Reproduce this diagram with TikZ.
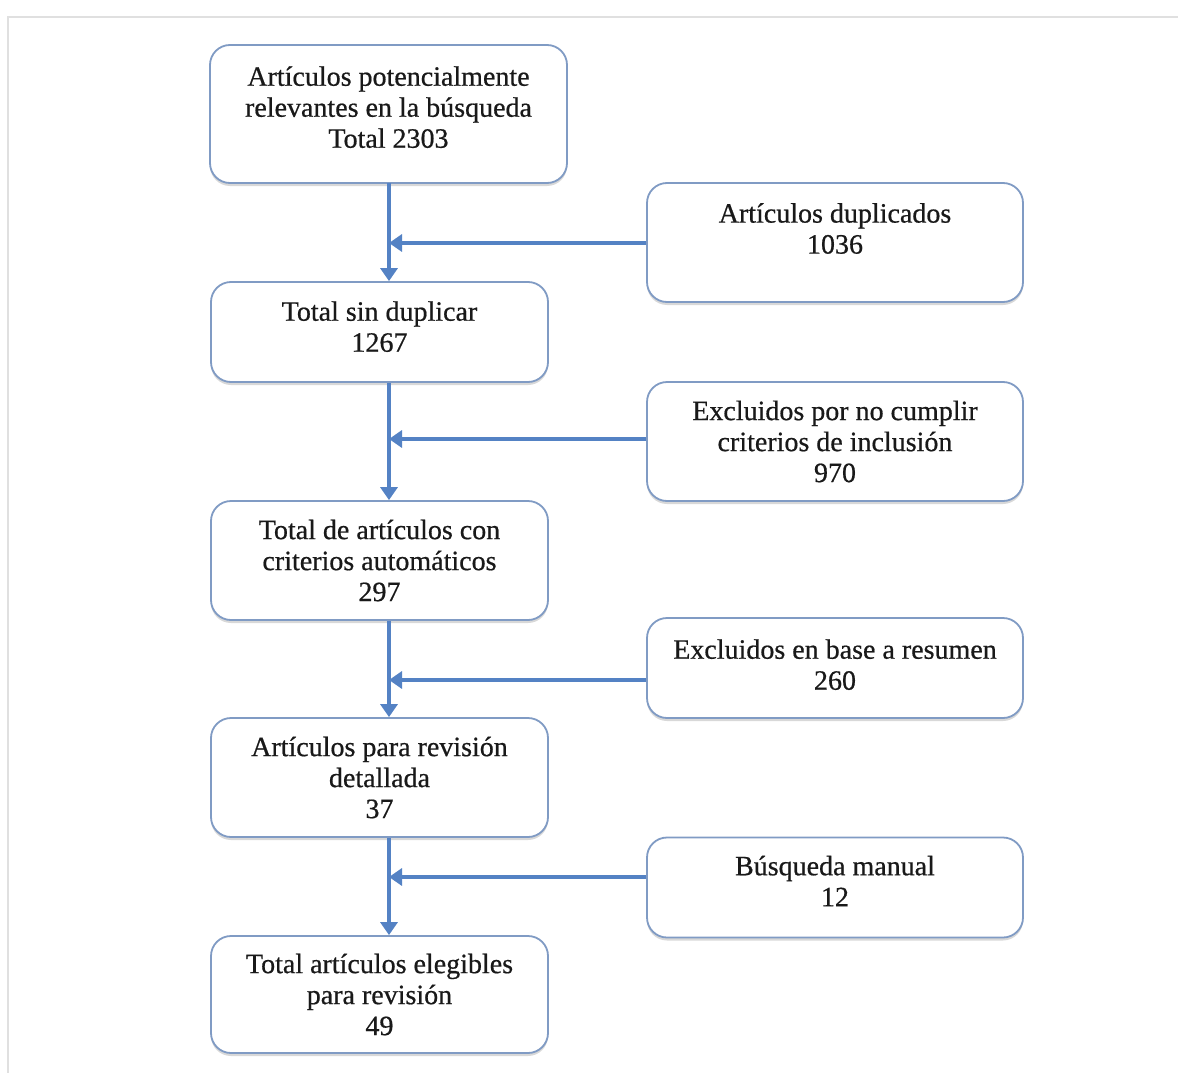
\documentclass[tikz,border=0pt]{standalone}
\usepackage{fontspec}
\setmainfont{Liberation Serif}[FakeBold=0.6]
\usetikzlibrary{arrows.meta,shadows}
\definecolor{boxline}{RGB}{128,155,196}
\definecolor{arrowblue}{RGB}{84,130,196}
\definecolor{framegray}{RGB}{224,224,224}
\definecolor{textdark}{RGB}{25,25,25}
\newcommand{\liftup}[1]{\\[#1]\mbox{}}
\begin{document}
\begin{tikzpicture}[x=1pt,y=-1pt,
  flowbox/.style={draw=boxline, line width=1.8pt, fill=white, rounded corners=20pt,
    align=center, inner sep=0pt, text=textdark, font=\fontsize{28}{31}\selectfont,
    drop shadow={shadow xshift=0pt, shadow yshift=-3pt, opacity=0.3}},
  flowarrow/.style={draw=arrowblue, line width=3.5pt,
    -{Triangle[width=17pt,length=13pt]}}]
\useasboundingbox (0,0) rectangle (1178,1073);
\fill[white] (0,0) rectangle (1178,1073);
\draw[framegray, line width=1.5pt] (8,1073) -- (8,17) -- (1178,17);

% main column
\node[flowbox, minimum width=357pt, minimum height=138pt] (b1) at (388.5,114)
  {Artículos potencialmente\\relevantes en la búsqueda\\Total 2303\liftup{-17pt}};
\node[flowbox, minimum width=337pt, minimum height=100pt] (b2) at (379.5,332)
  {Total sin duplicar\\1267\liftup{-20pt}};
\node[flowbox, minimum width=337pt, minimum height=119pt] (b3) at (379.5,560.5)
  {Total de artículos con\\criterios automáticos\\297};
\node[flowbox, minimum width=337pt, minimum height=119pt] (b4) at (379.5,777.5)
  {Artículos para revisión\\detallada\\37};
\node[flowbox, minimum width=337pt, minimum height=117pt] (b5) at (379.5,994.5)
  {Total artículos elegibles\\para revisión\\49};

% side boxes
\node[flowbox, minimum width=376pt, minimum height=119pt] (r1) at (835,242.5)
  {Artículos duplicados\\1036\\[-12pt]\strut};
\node[flowbox, minimum width=376pt, minimum height=119pt] (r2) at (835,441.5)
  {Excluidos por no cumplir\\criterios de inclusión\\970};
\node[flowbox, minimum width=376pt, minimum height=100pt] (r3) at (835,668)
  {Excluidos en base a resumen\\260\liftup{-24pt}};
\node[flowbox, minimum width=376pt, minimum height=100pt] (r4) at (835,887.5)
  {Búsqueda manual\\12\liftup{-18pt}};

% junction points on the trunk
\coordinate (t0) at (389,183);
\coordinate (j1) at (389,243);
\coordinate (j2) at (389,439);
\coordinate (j3) at (389,680);
\coordinate (j4) at (389,877);

% vertical arrows
\draw[flowarrow] (t0) -- (t0 |- b2.north);
\draw[flowarrow] (b2.south -| t0) -- (t0 |- b3.north);
\draw[flowarrow] (b3.south -| t0) -- (t0 |- b4.north);
\draw[flowarrow] (b4.south -| t0) -- (t0 |- b5.north);

% side arrows
\draw[flowarrow] (r1.west |- j1) -- (j1);
\draw[flowarrow] (r2.west |- j2) -- (j2);
\draw[flowarrow] (r3.west |- j3) -- (j3);
\draw[flowarrow] (r4.west |- j4) -- (j4);
\end{tikzpicture}
\end{document}
